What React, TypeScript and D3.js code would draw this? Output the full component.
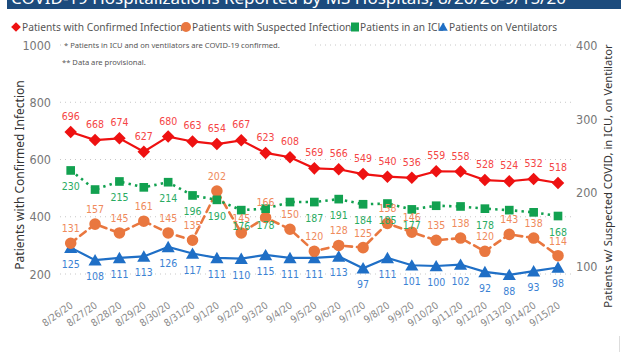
import * as d3 from "d3";
import React, { useEffect, useRef } from "react";

const dates = ["8/26/20", "8/27/20", "8/28/20", "8/29/20", "8/30/20", "8/31/20", "9/1/20", "9/2/20", "9/3/20", "9/4/20", "9/5/20",
  "9/6/20", "9/7/20", "9/8/20", "9/9/20", "9/10/20", "9/11/20", "9/12/20", "9/13/20", "9/14/20", "9/15/20"];
const confirmed = [696, 668, 674, 627, 680, 663, 654, 667, 623, 608, 569, 566, 549, 540, 536, 559, 558, 528, 524, 532, 518];
const suspected = [131, 157, 145, 161, 145, 135, 202, 145, 166, 150, 120, 128, 125, 158, 146, 135, 138, 120, 143, 138, 114];
const icu = [230, 204, 215, 207, 214, 196, 190, 176, 178, 187, 187, 191, 184, 185, 177, 182, 181, 178, 176, 173, 168];
const ventilators = [125, 108, 111, 113, 126, 117, 111, 110, 115, 111, 111, 113, 97, 111, 101, 100, 102, 92, 88, 93, 98];
// the original hides some ICU data labels
const icuLabelShown = [true, false, true, false, true, true, true, true, true, false, true, true, true, true, true, false, false, true, false, false, true];

const leftTicks = [200, 400, 600, 800, 1000];
const rightTicks = [100, 200, 300, 400];

const width = 621;
const height = 352;
const labelFont = "'Liberation Sans Narrow', 'DejaVu Sans Condensed', sans-serif";
const uiFont = "'Noto Sans', 'Open Sans', sans-serif";

const App = () => {
  const ref = useRef<HTMLDivElement>(null);

  useEffect(() => {
    const x = d3.scalePoint<string>().domain(dates).range([70.7, 558]);
    const yL = d3.scaleLinear().domain([200, 1000]).range([274, 45]);
    const yR = d3.scaleLinear().domain([100, 400]).range([266, 45.5]);

    const svg = d3.create("svg")
      .attr("width", width)
      .attr("height", height)
      .attr("viewBox", `0 0 ${width} ${height}`)
      .style("position", "absolute")
      .style("left", "0px")
      .style("top", "0px")
      .style("background", "#fff");

    // title bar (cut off at the top)
    svg.append("rect").attr("x", 7).attr("y", 0).attr("width", width - 7).attr("height", 9).attr("fill", "#1c4b7d");
    svg.append("text")
      .attr("x", 11).attr("y", 4)
      .attr("fill", "#fff")
      .style("font-family", uiFont)
      .style("font-size", "17px")
      .text("COVID-19 Hospitalizations Reported by MS Hospitals, 8/26/20-9/15/20**");

    // legend
    const legend = svg.append("g").style("font-family", uiFont).style("font-size", "10.2px").attr("fill", "#555");
    legend.append("path").attr("d", d3.symbol(d3.symbolDiamond2, 60)()).attr("transform", "translate(16,27)").attr("fill", "#ee1111");
    legend.append("text").attr("x", 22).attr("y", 30.5).text("Patients with Confirmed Infection");
    legend.append("circle").attr("cx", 186).attr("cy", 27).attr("r", 5).attr("fill", "#e9773f");
    legend.append("text").attr("x", 192).attr("y", 30.5).text("Patients with Suspected Infection");
    legend.append("rect").attr("x", 351).attr("y", 22.5).attr("width", 8).attr("height", 9).attr("fill", "#12a150");
    legend.append("text").attr("x", 360).attr("y", 30.5).text("Patients in an ICU");
    legend.append("path").attr("d", d3.symbol(d3.symbolTriangle, 40)()).attr("transform", "translate(443,28)").attr("fill", "#1f6fc6");
    legend.append("text").attr("x", 449).attr("y", 30.5).text("Patients on Ventilators");

    // gridlines
    svg.append("g").selectAll("line").data(leftTicks).join("line")
      .attr("x1", 60).attr("x2", 571)
      .attr("y1", d => yL(d)).attr("y2", d => yL(d))
      .attr("stroke", "#c8c8c8").attr("stroke-width", 1).attr("stroke-dasharray", "1,4");

    // notes
    const notes = svg.append("g").style("font-family", uiFont).style("font-size", "7.6px").attr("fill", "#555");
    notes.append("rect").attr("x", 62).attr("y", 39).attr("width", 253).attr("height", 12).attr("fill", "#fff");
    notes.append("text").attr("x", 64).attr("y", 48).text("* Patients in ICU and on ventilators are COVID-19 confirmed.");
    notes.append("text").attr("x", 62).attr("y", 65).text("** Data are provisional.");

    // left axis
    svg.append("g")
      .attr("transform", "translate(51,0)")
      .call(d3.axisLeft(yL).tickValues(leftTicks).tickFormat(d3.format("d")).tickSize(0).tickPadding(0))
      .call(g => g.select(".domain").remove())
      .call(g => g.selectAll("text").attr("fill", "#777").style("font-family", labelFont).style("font-size", "12.5px"));

    // right axis
    svg.append("g")
      .attr("transform", "translate(576,0)")
      .call(d3.axisRight(yR).tickValues(rightTicks).tickFormat(d3.format("d")).tickSize(0).tickPadding(0))
      .call(g => g.select(".domain").remove())
      .call(g => g.selectAll("text").attr("fill", "#777").style("font-family", labelFont).style("font-size", "12.5px"));

    // axis titles
    svg.append("text")
      .attr("transform", "translate(24,175) rotate(-90)")
      .attr("text-anchor", "middle")
      .attr("fill", "#333")
      .style("font-family", uiFont)
      .style("font-size", "12px")
      .text("Patients with Confirmed Infection");
    svg.append("text")
      .attr("transform", "translate(612,176) rotate(-90)")
      .attr("text-anchor", "middle")
      .attr("fill", "#333")
      .style("font-family", uiFont)
      .style("font-size", "11.2px")
      .text("Patients w/ Suspected COVID, in ICU, on Ventilator");

    // x labels
    svg.append("g").selectAll("text").data(dates).join("text")
      .attr("transform", d => `translate(${(x(d) as number) + 3},307) rotate(-35)`)
      .attr("text-anchor", "end")
      .attr("fill", "#888")
      .style("font-family", labelFont)
      .style("font-size", "10px")
      .text(d => d);

    const series = [
      { values: ventilators, y: yR, color: "#1f6fc6", labelColor: "#3b82d4", dash: null, cap: "butt", width: 2.2, sym: d3.symbolTriangle, size: 75, dy: 20, shown: null },
      { values: suspected, y: yR, color: "#e9773f", labelColor: "#ef8a5c", dash: "7,5", cap: "round", width: 2.6, sym: d3.symbolCircle, size: 105, dy: -11, shown: null },
      { values: icu, y: yR, color: "#12a150", labelColor: "#2aab62", dash: "2.4,4.2", cap: "butt", width: 2.6, sym: d3.symbolSquare, size: 75, dy: 20, shown: icuLabelShown },
      { values: confirmed, y: yL, color: "#ee1111", labelColor: "#f54545", dash: null, cap: "butt", width: 2.2, sym: d3.symbolDiamond2, size: 100, dy: -12, shown: null },
    ];

    series.forEach(s => {
      const g = svg.append("g");
      const line = d3.line<number>()
        .x((_, i) => x(dates[i]) as number)
        .y(v => s.y(v));
      g.append("path")
        .attr("d", line(s.values))
        .attr("fill", "none")
        .attr("stroke", s.color)
        .attr("stroke-width", s.width)
        .attr("stroke-linecap", s.cap)
        .attr("stroke-dasharray", s.dash);
      g.selectAll("path.mk").data(s.values).join("path")
        .attr("class", "mk")
        .attr("d", d3.symbol(s.sym, s.size)())
        .attr("transform", (v, i) => `translate(${x(dates[i])},${s.y(v) + (s.sym === d3.symbolTriangle ? 1.5 : 0)})`)
        .attr("fill", s.color);
    });

    series.forEach(s => {
      const pts = s.values
        .map((v, i) => ({ v, i }))
        .filter(p => !s.shown || s.shown[p.i]);
      svg.append("g").selectAll("text").data(pts).join("text")
        .attr("x", p => x(dates[p.i]) as number)
        .attr("y", p => s.y(p.v) + s.dy)
        .attr("text-anchor", "middle")
        .attr("fill", s.labelColor)
        .style("font-family", labelFont)
        .style("font-size", "10.5px")
        .text(p => p.v);
    });

    svg.append("line").attr("x1", 619.5).attr("x2", 619.5).attr("y1", 336).attr("y2", 352).attr("stroke", "#ddd");

    if (ref.current) {
      ref.current.innerHTML = "";
      ref.current.appendChild(svg.node() as SVGSVGElement);
    }
  }, []);

  return <div ref={ref}></div>;
};

export default App;
